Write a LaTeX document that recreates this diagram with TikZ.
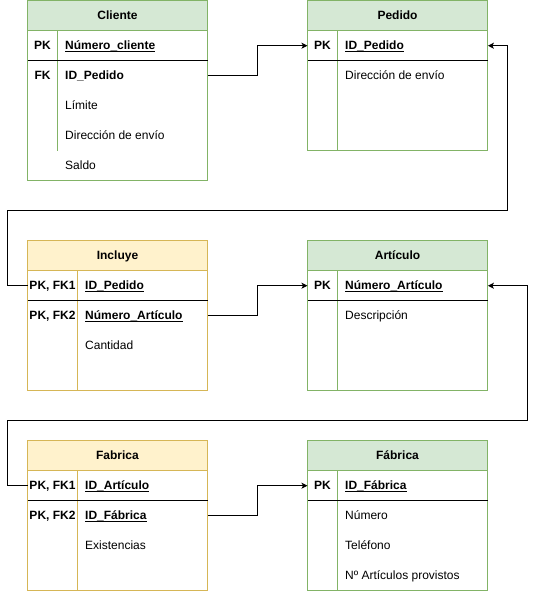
\documentclass[tikz,border=0pt]{standalone}
\usepackage{fontspec}
\setmainfont{Liberation Sans}
\usetikzlibrary{arrows.meta}
\definecolor{gfill}{HTML}{D5E8D4}
\definecolor{gline}{HTML}{82B366}
\definecolor{yfill}{HTML}{FFF2CC}
\definecolor{yline}{HTML}{D6B656}
\newcommand\myul[1]{\setbox0\hbox{#1}\rlap{\vrule width\wd0 height -1.4pt depth 2.4pt}\box0}
\begin{document}
\begin{tikzpicture}[x=1pt,y=-1pt,
  every node/.style={font=\fontsize{12}{14}\selectfont, inner sep=0pt, text=black, text height=8.6pt, text depth=0pt},
  rowbox/.style={minimum width=180pt, minimum height=30pt, anchor=north west, draw=none},
  hdr/.style={font=\fontsize{12}{14}\selectfont\bfseries},
  keyt/.style={font=\fontsize{12}{14}\selectfont\bfseries},
  fld/.style={anchor=west},
  fldb/.style={anchor=west, font=\fontsize{12}{14}\selectfont\bfseries},
  conn/.style={draw=black, line width=1pt},
  arr/.style={conn, -{Stealth[length=6pt,width=6pt,inset=1.5pt]}},
  sep/.style={draw=black, line width=1pt},
  gbox/.style={draw=gline, line width=1pt},
  ybox/.style={draw=yline, line width=1pt}]
\useasboundingbox (0,0) rectangle (536,591);

% ---------- Cliente ----------
\fill[gfill] (27.5,0.5) rectangle (207.5,30.5);
\draw[gbox] (27.5,0.5) rectangle (207.5,180.5);
\draw[gbox] (27.5,30.5) -- (207.5,30.5);
\draw[gbox] (57.5,30.5) -- (57.5,150.5);
\draw[sep] (27.5,60.5) -- (207.5,60.5);
\node[hdr] (cliT) at (117.5,15.5) {Cliente};
\node[rowbox] (cliR1) at (27.5,30.5) {};
\node[rowbox] (cliR2) at (27.5,60.5) {};
\node[keyt] (cliK1) at (42.5,45.5) {PK};
\node[fldb] (cliF1) at (65,45.5) {\myul{Número\_cliente}};
\node[keyt] (cliK2) at (42.5,75.5) {FK};
\node[fldb] (cliF2) at (65,75.5) {ID\_Pedido};
\node[fld] (cliF3) at (65,105.5) {Límite};
\node[fld] (cliF4) at (65,135.5) {Dirección de envío};
\node[fld] (cliF5) at (65,165.5) {Saldo};

% ---------- Pedido ----------
\fill[gfill] (307.5,0.5) rectangle (487.5,30.5);
\draw[gbox] (307.5,0.5) rectangle (487.5,150.5);
\draw[gbox] (307.5,30.5) -- (487.5,30.5);
\draw[gbox] (337.5,30.5) -- (337.5,150.5);
\draw[sep] (307.5,60.5) -- (487.5,60.5);
\node[hdr] (pedT) at (397.5,15.5) {Pedido};
\node[rowbox] (pedR1) at (307.5,30.5) {};
\node[keyt] (pedK1) at (322.5,45.5) {PK};
\node[fldb] (pedF1) at (345,45.5) {\myul{ID\_Pedido}};
\node[fld] (pedF2) at (345,75.5) {Dirección de envío};

% ---------- Incluye ----------
\fill[yfill] (27.5,240.5) rectangle (207.5,270.5);
\draw[ybox] (27.5,240.5) rectangle (207.5,390.5);
\draw[ybox] (27.5,270.5) -- (207.5,270.5);
\draw[ybox] (77.5,270.5) -- (77.5,390.5);
\draw[sep] (27.5,300.5) -- (207.5,300.5);
\node[hdr] (incT) at (117.5,255.5) {Incluye};
\node[rowbox] (incR1) at (27.5,270.5) {};
\node[rowbox] (incR2) at (27.5,300.5) {};
\node[keyt] (incK1) at (52.5,285.5) {PK, FK1};
\node[fldb] (incF1) at (85,285.5) {\myul{ID\_Pedido}};
\node[keyt] (incK2) at (52.5,315.5) {PK, FK2};
\node[fldb] (incF2) at (85,315.5) {\myul{Número\_Artículo}};
\node[fld] (incF3) at (85,345.5) {Cantidad};

% ---------- Artículo ----------
\fill[gfill] (307.5,240.5) rectangle (487.5,270.5);
\draw[gbox] (307.5,240.5) rectangle (487.5,390.5);
\draw[gbox] (307.5,270.5) -- (487.5,270.5);
\draw[gbox] (337.5,270.5) -- (337.5,390.5);
\draw[sep] (307.5,300.5) -- (487.5,300.5);
\node[hdr] (artT) at (397.5,255.5) {Artículo};
\node[rowbox] (artR1) at (307.5,270.5) {};
\node[keyt] (artK1) at (322.5,285.5) {PK};
\node[fldb] (artF1) at (345,285.5) {\myul{Número\_Artículo}};
\node[fld] (artF2) at (345,315.5) {Descripción};

% ---------- Fabrica ----------
\fill[yfill] (27.5,440.5) rectangle (207.5,470.5);
\draw[ybox] (27.5,440.5) rectangle (207.5,590.5);
\draw[ybox] (27.5,470.5) -- (207.5,470.5);
\draw[ybox] (77.5,470.5) -- (77.5,590.5);
\draw[sep] (27.5,500.5) -- (207.5,500.5);
\node[hdr] (fabT) at (117.5,455.5) {Fabrica};
\node[rowbox] (fabR1) at (27.5,470.5) {};
\node[rowbox] (fabR2) at (27.5,500.5) {};
\node[keyt] (fabK1) at (52.5,485.5) {PK, FK1};
\node[fldb] (fabF1) at (85,485.5) {\myul{ID\_Artículo}};
\node[keyt] (fabK2) at (52.5,515.5) {PK, FK2};
\node[fldb] (fabF2) at (85,515.5) {\myul{ID\_Fábrica}};
\node[fld] (fabF3) at (85,545.5) {Existencias};

% ---------- Fábrica ----------
\fill[gfill] (307.5,440.5) rectangle (487.5,470.5);
\draw[gbox] (307.5,440.5) rectangle (487.5,590.5);
\draw[gbox] (307.5,470.5) -- (487.5,470.5);
\draw[gbox] (337.5,470.5) -- (337.5,590.5);
\draw[sep] (307.5,500.5) -- (487.5,500.5);
\node[hdr] (fbaT) at (397.5,455.5) {Fábrica};
\node[rowbox] (fbaR1) at (307.5,470.5) {};
\node[keyt] (fbaK1) at (322.5,485.5) {PK};
\node[fldb] (fbaF1) at (345,485.5) {\myul{ID\_Fábrica}};
\node[fld] (fbaF2) at (345,515.5) {Número};
\node[fld] (fbaF3) at (345,545.5) {Teléfono};
\node[fld] (fbaF4) at (345,575.5) {Nº Artículos provistos};

% ---------- connectors ----------
\coordinate (c2a) at (7.5,210.5);
\coordinate (c2b) at (507.5,210.5);
\coordinate (c4a) at (7.5,420.5);
\coordinate (c4b) at (527.5,420.5);
\draw[arr] (cliR2.east) -- ++(49.5,0) |- (pedR1.west);
\draw[arr] (incR1.west) -| (c2a) -- (c2b) |- (pedR1.east);
\draw[arr] (incR2.east) -- ++(49.5,0) |- (artR1.west);
\draw[arr] (fabR1.west) -| (c4a) -- (c4b) |- (artR1.east);
\draw[arr] (fabR2.east) -- ++(49.5,0) |- (fbaR1.west);
\end{tikzpicture}
\end{document}
